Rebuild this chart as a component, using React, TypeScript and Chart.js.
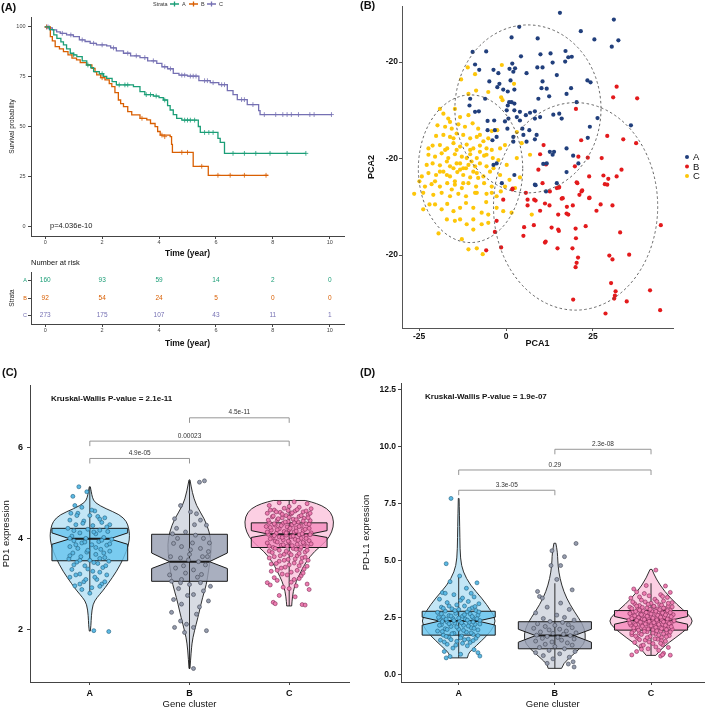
import React, { useEffect, useRef } from "react";
import { Chart, registerables } from "chart.js";
Chart.register(...registerables);

const FONT = "'Liberation Sans', Arial, Helvetica, sans-serif";

// ---------------- Panel A : Kaplan-Meier ----------------
const strata = ["A", "B", "C"];
const kmColors = ["#1b9e77", "#d95f02", "#7570b3"];
const kmTimeA = [0, 0.15, 0.3, 0.41, 0.55, 0.64, 0.75, 0.88, 1.0, 1.11, 1.3, 1.46, 1.6, 1.7, 1.9, 2.05, 2.16, 2.35, 2.5, 3.1, 3.33, 3.5, 3.8, 4.0, 4.15, 4.3, 4.39, 4.5, 4.62, 4.8, 5.38, 5.45, 6.07, 6.15, 6.3, 9.16];
const kmSurvA = [100, 98.7, 96, 94.3, 92.5, 91, 89, 86.8, 86, 85.1, 83, 80.9, 79.5, 77.6, 76.5, 75.2, 74.2, 72.5, 70.9, 70, 67.5, 66, 65.3, 64.5, 63.3, 60.5, 58.3, 56, 54.1, 53.2, 50, 47, 44, 42, 36.5, 36.5];
const kmTimeB = [0, 0.18, 0.25, 0.35, 0.5, 0.64, 0.8, 0.94, 1.1, 1.23, 1.45, 1.64, 1.75, 1.81, 1.95, 2.1, 2.25, 2.34, 2.45, 2.57, 2.65, 2.75, 2.9, 3.04, 3.33, 3.57, 3.7, 3.86, 3.95, 4.04, 4.39, 4.44, 4.47, 5.2, 5.73, 7.84];
const kmSurvB = [100, 95.1, 93, 90.1, 89, 87.6, 86, 84.3, 83.5, 82.1, 81, 79.2, 77.5, 75.9, 74.5, 73.4, 71.5, 70, 67, 63.3, 61.5, 60, 57.5, 55.8, 54.1, 53.3, 51.5, 49.9, 47.5, 45.7, 44.9, 41, 37, 30, 25.5, 25.5];
const kmTimeC = [0, 0.1, 0.25, 0.4, 0.53, 0.75, 0.99, 1.2, 1.4, 1.58, 1.8, 2.16, 2.3, 2.5, 2.75, 3.0, 3.33, 3.6, 3.92, 4.1, 4.3, 4.5, 4.7, 5.0, 5.4, 5.8, 6.1, 6.4, 6.6, 6.75, 7.1, 7.5, 7.55, 10.06];
const kmSurvC = [100, 99.5, 98.5, 97.5, 96.8, 96, 95.1, 93.5, 92.7, 91.8, 91, 90.5, 89.5, 88, 86.8, 85.5, 84.6, 83, 81.7, 80, 79, 76.7, 75.8, 75.3, 73, 72, 71, 68, 66, 63.5, 61, 58, 56, 56];
const censTimeA = [1.0, 1.5, 2.0, 2.6, 2.8, 2.9, 3.55, 3.7, 3.9, 4.2, 4.9, 5.0, 5.1, 5.25, 5.6, 5.75, 5.9, 6.6, 7.0, 7.4, 7.9, 8.5, 9.16];
const censSurvA = [86, 80.9, 76.5, 70.9, 70.9, 70.9, 66, 66, 65.3, 63.3, 53.2, 53.2, 53.2, 53.2, 47, 47, 47, 36.5, 36.5, 36.5, 36.5, 36.5, 36.5];
const censTimeB = [0.05, 2.0, 3.4, 4.1, 4.2, 4.8, 5.0, 5.5, 6.07, 6.5, 7.0, 7.76];
const censSurvB = [100, 74.5, 54.1, 45.7, 44.9, 37, 37, 30, 25.5, 25.5, 25.5, 25.5];
const censTimeC = [0.05, 0.1, 0.15, 0.6, 0.9, 1.3, 1.7, 2.0, 2.4, 2.9, 3.2, 3.5, 3.8, 4.2, 4.4, 4.8, 4.9, 5.1, 5.2, 5.3, 5.6, 5.7, 5.9, 6.2, 6.3, 6.9, 7.0, 7.3, 7.7, 8.1, 8.35, 8.5, 8.65, 8.9, 9.3, 9.45, 10.06];
const censSurvC = [100, 100, 99.5, 96.8, 96, 93.5, 91.8, 91, 89.5, 86.8, 85.5, 84.6, 83, 80, 79, 75.8, 75.8, 75.3, 75.3, 75.3, 73, 73, 72, 71, 71, 63.5, 63.5, 61, 56, 56, 56, 56, 56, 56, 56, 56, 56];
const kmTicksX = [0, 2, 4, 6, 8, 10];
const kmTicksY = [0, 25, 50, 75, 100];
const pValueText = "p=4.036e-10";
const pValuePos = [0.17, 0];

// risk table
const riskTimes = [0, 2, 4, 6, 8, 10];
const riskA = [160, 93, 59, 14, 2, 0];
const riskB = [92, 54, 24, 5, 0, 0];
const riskC = [273, 175, 107, 43, 11, 1];

// ---------------- Panel B : PCA ----------------
const pcaColors = ["#213f7c", "#e31a1c", "#fdc60a"];
const pcaA = [[15.5,30.2],[31.0,28.8],[3.8,27.3],[21.5,26.4],[9.1,24.9],[1.6,25.1],[25.4,24.7],[32.3,24.5],[30.4,23.2],[17.1,22.3],[-9.6,22.1],[-5.7,22.2],[9.9,21.6],[12.8,21.8],[17.9,21.0],[18.9,21.1],[4.3,21.2],[17.0,20.1],[-8.9,19.5],[1.8,19.7],[13.4,19.9],[9.0,18.9],[10.5,18.9],[1.0,18.6],[2.6,18.7],[-3.6,18.4],[-7.7,18.4],[-2.2,17.7],[2.1,18.0],[5.9,17.7],[14.6,17.3],[-4.8,16.0],[1.3,16.2],[10.5,16.0],[-1.9,15.5],[23.4,16.2],[24.3,15.8],[18.7,14.6],[-2.5,14.8],[-0.8,14.3],[0.5,13.9],[2.4,14.3],[10.2,14.6],[11.7,14.5],[17.4,13.4],[9.3,12.4],[12.4,12.9],[-6.0,12.4],[-10.3,12.4],[0.9,11.7],[1.6,11.7],[0.5,11.0],[2.4,11.4],[20.3,11.7],[-10.5,11.0],[-8.9,9.7],[-7.8,9.8],[0.2,10.0],[2.4,10.0],[4.0,9.7],[6.9,9.5],[8.3,9.8],[13.6,9.1],[15.3,9.3],[16.0,8.3],[0.7,8.3],[3.1,8.6],[5.7,9.0],[-5.3,7.8],[-3.4,7.9],[-0.3,7.7],[4.0,7.9],[8.3,8.3],[9.8,8.6],[26.3,8.4],[35.9,6.9],[24.1,6.6],[-5.3,5.9],[-3.2,5.9],[0.4,6.2],[4.7,6.2],[6.7,5.9],[-2.7,4.5],[2.1,4.5],[5.0,4.9],[8.8,4.9],[8.3,4.0],[-3.9,3.8],[2.1,3.5],[5.9,3.5],[17.4,2.1],[23.5,4.3],[12.6,1.4],[13.4,0.8],[13.8,1.4],[19.3,0.6],[20.8,-1.0],[10.7,-1.1],[-3.6,-1.3],[-2.7,-1.0],[11.7,-1.0],[17.4,-2.8],[2.4,-3.4],[8.3,-5.4],[-1.2,-5.1],[14.6,-5.1],[8.5,-5.5],[11.5,-6.8]];
const pcaB = [[31.8,14.9],[30.8,12.7],[37.7,12.5],[20.1,10.3],[21.6,3.8],[29.1,4.7],[33.7,4.0],[37.4,3.2],[10.8,2.8],[9.8,0.9],[20.8,0.4],[23.5,0.2],[27.5,0.1],[11.5,-1.2],[19.8,-1.6],[9.3,-2.3],[23.9,-3.7],[28.0,-3.5],[31.8,-3.7],[33.2,-2.3],[29.4,-4.2],[28.4,-5.3],[29.1,-5.4],[20.3,-4.9],[15.2,-6.0],[10.5,-5.1],[21.7,-6.8],[21.1,-7.5],[23.9,-8.2],[16.3,-8.2],[5.7,-7.1],[1.8,-6.4],[12.6,-6.8],[8.1,-8.5],[14.6,-6.1],[20.5,-5.1],[15.3,-5.9],[21.9,-6.6],[24.0,-8.1],[6.2,-8.5],[8.5,-8.7],[1.9,-6.2],[-0.8,-8.5],[16.0,-8.3],[6.2,-9.7],[11.2,-9.3],[12.5,-9.7],[19.2,-9.7],[17.5,-10.0],[27.2,-9.5],[30.6,-9.7],[26.0,-10.8],[9.8,-10.8],[15.0,-11.6],[17.4,-11.4],[17.9,-11.6],[5.2,-14.2],[8.0,-13.8],[13.1,-14.3],[15.0,-14.7],[15.2,-15.0],[20.0,-14.5],[22.9,-14.0],[-2.7,-12.9],[-3.2,-15.2],[5.0,-16.0],[11.2,-17.4],[11.4,-17.2],[20.1,-16.5],[32.8,-15.3],[44.5,-13.8],[14.8,-18.6],[19.1,-18.6],[-5.7,-19.0],[-1.4,-18.4],[20.7,-20.5],[20.3,-21.6],[20.0,-22.5],[29.7,-20.1],[30.6,-20.9],[35.4,-19.9],[30.2,-25.8],[31.5,-27.5],[31.3,-28.4],[31.1,-29.0],[34.7,-29.6],[41.4,-27.3],[19.3,-29.2],[28.6,-32.1],[44.3,-31.4]];
const pcaC = [[-1.2,19.4],[-11.0,18.9],[-8.9,17.5],[-12.9,16.4],[-5.1,13.8],[-8.6,14.1],[-10.8,13.4],[2.3,15.5],[-1.4,12.7],[-1.0,12.1],[-19.0,10.3],[-16.6,8.3],[-13.2,8.6],[-10.8,9.0],[-17.5,6.6],[-15.6,6.2],[-13.7,7.1],[-11.8,6.6],[-9.6,7.3],[-8.0,6.2],[-20.1,4.7],[-18.0,4.9],[-16.1,4.5],[-14.2,5.2],[-12.3,4.9],[-10.3,4.2],[-8.4,4.5],[-6.5,3.6],[-4.1,5.7],[-2.5,5.9],[-21.1,2.7],[-19.0,2.8],[-16.9,2.1],[-15.1,3.2],[-13.2,2.5],[-11.3,2.9],[-9.4,2.1],[-7.5,2.7],[-5.6,2.1],[-1.7,2.1],[-0.3,2.8],[-22.3,0.8],[-20.4,0.4],[-18.5,1.1],[-16.6,0.1],[-14.7,0.9],[-12.7,0.4],[-10.3,0.9],[-8.4,0.1],[-6.3,0.6],[-22.8,-1.3],[-21.1,-1.0],[-19.0,-1.4],[-17.0,-0.6],[-16.1,-1.6],[-14.2,-1.0],[-12.3,-2.0],[-10.8,-1.3],[-8.9,-1.6],[-7.5,-1.0],[-3.8,0.1],[-2.2,-0.3],[0.2,-1.3],[3.1,0.1],[6.9,0.8],[-24.2,-3.7],[-22.3,-3.0],[-20.1,-3.4],[-18.0,-2.7],[-16.1,-3.7],[-14.0,-2.8],[-12.3,-3.4],[-10.3,-3.9],[-8.4,-3.0],[-6.5,-3.7],[-4.6,-2.7],[-1.7,-3.4],[1.0,-4.4],[4.0,-3.9],[-24.9,-4.7],[-23.3,-5.8],[-21.4,-5.3],[-19.0,-5.8],[-16.9,-5.1],[-14.7,-5.4],[-12.7,-6.1],[-10.8,-5.1],[-8.6,-5.8],[-6.3,-5.1],[-4.1,-5.8],[-0.3,-5.8],[2.6,-6.1],[-26.4,-7.3],[-23.8,-7.1],[-20.9,-7.5],[-18.5,-7.1],[-16.1,-7.8],[-13.7,-7.3],[-11.5,-7.8],[-8.9,-7.1],[-5.6,-7.3],[-2.7,-7.8],[-23.8,-10.5],[-22.0,-9.5],[-20.4,-9.5],[-18.5,-10.5],[-16.9,-9.4],[-15.1,-10.9],[-13.2,-10.2],[-11.5,-9.2],[-9.4,-10.2],[-7.0,-11.2],[-5.1,-11.6],[-2.7,-10.2],[-0.8,-10.9],[1.6,-11.2],[7.4,-11.6],[-19.4,-15.5],[-17.0,-12.6],[-14.7,-12.9],[-13.2,-12.6],[-11.3,-13.6],[-9.4,-12.6],[-7.0,-13.6],[-5.1,-13.3],[-9.4,-14.7],[-12.7,-16.7],[-10.8,-18.8],[-8.4,-18.6],[-6.7,-19.8],[-1.5,-6.8],[-15.6,-6.4],[-8.4,-7.1],[-4.1,-7.1],[-5.7,-9.0],[-15.1,-2.0],[-13.2,-2.3],[-11.3,0.1],[-9.9,-0.6],[-13.2,-1.0],[-11.5,-2.0],[-9.4,-2.7],[-8.0,-4.0],[-14.7,-4.7],[-12.3,-5.1],[-17.0,-3.4],[-19.0,-2.7],[-20.4,-4.7],[-22.3,2.1],[-17.5,1.8],[-14.2,1.8],[-10.3,1.8],[-7.5,1.4],[-5.6,0.8],[-4.1,1.8],[-3.6,-2.0],[-5.6,-1.6],[-15.1,4.2],[-19.7,6.9],[-16.1,7.6],[-14.7,10.3],[-18.0,9.3],[-7.5,4.9],[-5.1,4.2],[3.1,5.5],[4.5,3.2]];
const pcaGroups = [pcaA, pcaB, pcaC];
const ellCenterX = [6.3, 20.0, -10.2];
const ellCenterY = [10.3, -9.9, -2.1];
const ellRadiusX = [21.0, 23.6, 15.0];
const ellRadiusY = [17.4, 21.5, 15.3];
const pcaTicksX = [-25, 0, 25];
const pcaTicksY = [-20, 0, 20];

// ---------------- Panels C / D : violins ----------------
const clusters = ["A", "B", "C"];
const vioFill = ["#c3e6f6", "#d7dbe3", "#fccfe3"];
const boxFill = ["rgba(105,196,238,0.82)", "rgba(150,158,177,0.82)", "rgba(245,140,190,0.82)"];
const ptFill = ["#5cb9e4", "#959cad", "#ee7db1"];
const ptStroke = ["#245f7e", "#434855", "#7d2c56"];

// PD1
const pd1VioAy = [1.97, 2.1, 2.3, 2.56, 2.7, 2.85, 3.0, 3.28, 3.57, 3.86, 4.07, 4.22, 4.37, 4.52, 4.65, 4.78, 4.9, 5.02, 5.13];
const pd1VioAw = [0.005, 0.012, 0.015, 0.03, 0.07, 0.13, 0.18, 0.27, 0.34, 0.39, 0.40, 0.39, 0.37, 0.30, 0.16, 0.05, 0.025, 0.015, 0.005];
const pd1VioBy = [1.15, 1.55, 1.83, 2.12, 2.41, 2.70, 2.99, 3.28, 3.57, 3.86, 4.14, 4.43, 4.72, 5.01, 5.28];
const pd1VioBw = [0.005, 0.017, 0.033, 0.067, 0.10, 0.13, 0.17, 0.19, 0.21, 0.22, 0.20, 0.15, 0.067, 0.027, 0.005];
const pd1VioCy = [2.52, 2.6, 2.84, 3.06, 3.28, 3.49, 3.71, 3.93, 4.14, 4.36, 4.58, 4.72, 4.8, 4.83];
const pd1VioCw = [0.025, 0.027, 0.04, 0.07, 0.12, 0.17, 0.25, 0.37, 0.43, 0.45, 0.42, 0.33, 0.22, 0.16];
const pd1Q1 = [3.51, 3.06, 3.80];
const pd1Med = [3.99, 3.49, 4.09];
const pd1Q3 = [4.22, 4.09, 4.34];
const pd1NotchLo = [3.87, 3.34, 4.02];
const pd1NotchHi = [4.12, 3.68, 4.17];
const pd1WhiskLo = [2.8, 1.15, 2.52];
const pd1WhiskHi = [5.12, 5.26, 4.83];
const pd1PtsA = [[-0.11,5.13],[-0.17,4.92],[-0.03,5.02],[-0.15,4.72],[-0.08,4.68],[0.05,4.6],[-0.19,4.55],[-0.12,4.55],[0.0,4.5],[0.08,4.48],[0.15,4.45],[-0.2,4.4],[-0.06,4.38],[0.12,4.35],[0.2,4.3],[-0.14,4.3],[0.03,4.28],[-0.22,4.22],[-0.02,4.2],[0.1,4.18],[0.18,4.15],[-0.1,4.12],[0.06,4.1],[-0.18,4.05],[0.14,4.02],[-0.04,4.0],[0.22,3.98],[-0.16,3.95],[0.09,3.93],[-0.08,3.9],[0.02,3.86],[0.17,3.85],[-0.2,3.82],[-0.12,3.78],[0.11,3.76],[0.2,3.72],[-0.03,3.7],[-0.17,3.68],[0.06,3.65],[-0.09,3.6],[0.15,3.58],[-0.21,3.55],[0.0,3.52],[0.19,3.5],[-0.13,3.48],[0.08,3.45],[-0.05,3.4],[0.13,3.36],[-0.18,3.32],[0.03,3.28],[-0.1,3.22],[0.17,3.2],[-0.2,3.15],[0.07,3.1],[-0.06,3.05],[0.12,3.0],[-0.15,2.96],[0.02,2.92],[-0.08,2.88],[0.1,2.95],[0.0,2.8],[0.04,1.98],[0.19,1.96],[0.02,4.62],[-0.13,4.5],[0.1,4.42],[-0.07,4.33],[0.17,4.25],[-0.16,4.17],[0.04,4.14],[-0.2,4.0],[0.12,3.96],[-0.05,3.92],[0.2,3.88],[-0.14,3.86],[0.06,3.8],[-0.02,3.74],[0.14,3.68],[-0.2,3.62],[0.1,3.56],[-0.1,3.52],[0.04,3.47],[-0.16,3.42],[0.16,3.4],[-0.02,3.33],[0.1,3.26],[-0.14,3.2],[0.05,3.15],[-0.04,3.1],[0.15,3.05],[-0.1,3.0]];
const pd1PtsB = [[0.10,5.23],[0.15,5.26],[-0.09,4.72],[0.01,4.58],[0.07,4.54],[-0.15,4.43],[0.11,4.40],[0.17,4.29],[-0.13,4.22],[-0.04,4.14],[0.06,4.07],[0.14,4.00],[-0.16,3.89],[-0.08,3.82],[0.01,3.75],[0.11,3.78],[0.19,3.71],[-0.19,3.60],[-0.09,3.57],[-0.01,3.53],[0.09,3.49],[0.16,3.42],[-0.14,3.35],[-0.04,3.24],[0.04,3.31],[0.12,3.21],[-0.18,3.06],[-0.09,3.03],[0.0,2.99],[0.11,3.03],[0.21,2.95],[-0.16,2.66],[-0.08,2.56],[0.04,2.77],[0.19,2.63],[-0.18,2.38],[-0.09,2.19],[-0.03,2.12],[0.04,2.05],[0.07,2.34],[0.17,1.98],[-0.15,2.05],[-0.05,1.94],[0.04,1.15],[-0.12,4.0],[0.03,3.9],[0.18,3.6],[-0.06,3.4],[0.08,3.15],[-0.2,3.2],[0.14,2.85],[-0.02,2.75],[0.1,2.5],[-0.11,2.9],[0.05,4.3],[-0.17,4.1],[0.2,3.9],[0.0,3.65],[-0.08,3.1],[0.13,3.6]];
const pd1PtsC = [[0.05,4.8],[-0.1,4.78],[0.18,4.76],[-0.2,4.72],[0.0,4.7],[0.1,4.68],[-0.05,4.66],[0.22,4.65],[-0.15,4.62],[0.06,4.6],[0.14,4.58],[-0.09,4.57],[-0.22,4.55],[0.02,4.54],[0.19,4.52],[-0.03,4.5],[0.1,4.48],[-0.17,4.47],[-0.07,4.45],[0.15,4.44],[0.04,4.42],[-0.12,4.4],[0.21,4.39],[-0.01,4.37],[0.09,4.36],[-0.2,4.35],[-0.06,4.33],[0.17,4.32],[0.03,4.3],[-0.14,4.29],[0.12,4.27],[-0.23,4.26],[-0.02,4.25],[0.07,4.23],[0.2,4.22],[-0.1,4.21],[0.0,4.19],[-0.18,4.18],[0.14,4.17],[-0.05,4.15],[0.05,4.14],[0.22,4.12],[-0.13,4.11],[-0.21,4.09],[0.1,4.08],[-0.03,4.07],[0.17,4.05],[0.02,4.04],[-0.1,4.03],[-0.17,4.01],[0.12,4.0],[0.06,3.98],[-0.06,3.97],[0.2,3.95],[-0.14,3.94],[0.0,3.92],[-0.22,3.9],[0.15,3.89],[0.08,3.87],[-0.08,3.85],[-0.02,3.83],[0.18,3.82],[-0.16,3.8],[0.04,3.78],[0.11,3.76],[-0.1,3.74],[-0.2,3.72],[0.16,3.7],[0.0,3.68],[-0.05,3.65],[0.08,3.62],[-0.15,3.6],[0.13,3.57],[-0.01,3.54],[0.19,3.52],[-0.1,3.5],[0.05,3.46],[-0.18,3.44],[0.1,3.4],[-0.04,3.37],[0.15,3.33],[-0.12,3.3],[0.02,3.26],[-0.07,3.22],[0.12,3.18],[-0.15,3.14],[0.05,3.1],[-0.22,3.03],[0.18,3.0],[-0.19,2.98],[0.07,2.96],[0.0,2.9],[0.2,2.88],[-0.1,2.75],[0.06,2.72],[-0.16,2.6],[0.13,2.55],[-0.14,2.57],[0.16,2.54],[-0.19,4.62],[0.08,4.63],[-0.01,4.61],[0.17,4.6],[-0.13,4.58],[0.03,4.56],[0.21,4.55],[-0.07,4.53],[0.12,4.5],[-0.16,4.49],[0.0,4.46],[0.19,4.45],[-0.11,4.43],[0.07,4.41],[-0.21,4.4],[0.14,4.38],[-0.04,4.36],[0.05,4.34],[-0.15,4.32],[0.2,4.31],[-0.08,4.28],[0.1,4.26],[-0.19,4.24],[0.01,4.22],[0.16,4.2],[-0.12,4.19],[0.07,4.16],[-0.22,4.14],[-0.03,4.12],[0.13,4.1],[0.21,4.08],[-0.15,4.06],[0.04,4.05],[-0.07,4.02],[0.17,4.0],[-0.19,3.99],[0.09,3.96],[-0.01,3.94],[-0.12,3.92],[0.14,3.91],[0.22,3.88],[-0.06,3.86],[0.03,3.84],[-0.2,3.83],[0.12,3.81],[-0.14,3.78],[0.07,3.76],[0.18,3.74],[-0.03,3.72],[-0.17,3.69],[0.1,3.67],[0.02,3.64],[-0.09,3.62],[0.16,3.59],[-0.2,3.57],[0.06,3.55],[-0.05,3.52],[0.12,3.48],[-0.13,3.45],[0.0,3.42],[0.18,3.39],[-0.08,3.35],[0.08,3.3],[-0.18,3.28],[0.14,3.24],[-0.02,3.2],[0.1,3.12],[-0.12,3.08],[0.02,3.04],[-0.06,2.93]];
const pd1BrkFrom = [1, 1, 2];
const pd1BrkTo = [2, 3, 3];
const pd1BrkY = [5.75, 6.13, 6.64];
const pd1BrkLabel = ["4.9e-05", "0.00023", "4.5e-11"];
const pd1Kruskal = "Kruskal-Wallis P-value = 2.1e-11";
const pd1KruskalPos = [0.61, 7.05];
const pd1TicksY = [2, 4, 6];

// PD-L1
const pdl1VioAy = [0.72, 0.9, 1.05, 1.48, 1.91, 2.34, 2.77, 3.35, 3.92, 4.5, 5.07, 6.0, 7.0, 7.73];
const pdl1VioAw = [0.09, 0.1, 0.13, 0.24, 0.34, 0.39, 0.34, 0.24, 0.12, 0.045, 0.017, 0.012, 0.008, 0.004];
const pdl1VioBy = [0.26, 0.47, 0.9, 1.34, 1.77, 2.2, 2.77, 3.35, 3.92, 4.5, 5.0, 5.36, 5.76];
const pdl1VioBw = [0.07, 0.085, 0.2, 0.31, 0.32, 0.29, 0.2, 0.12, 0.07, 0.04, 0.03, 0.027, 0.01];
const pdl1VioCy = [0.83, 1.19, 1.62, 2.05, 2.34, 2.63, 3.06, 3.64, 4.21, 4.61];
const pdl1VioCw = [0.05, 0.12, 0.26, 0.39, 0.44, 0.39, 0.27, 0.14, 0.05, 0.01];
const pdl1Q1 = [1.72, 1.12, 1.94];
const pdl1Med = [2.34, 1.70, 2.37];
const pdl1Q3 = [2.77, 2.31, 2.80];
const pdl1NotchLo = [2.16, 1.41, 2.2];
const pdl1NotchHi = [2.51, 1.98, 2.54];
const pdl1WhiskLo = [0.72, 0.26, 0.83];
const pdl1WhiskHi = [4.35, 4.0, 4.0];
const pdl1PtsA = [[-0.08,7.73],[-0.13,4.86],[0.01,4.32],[-0.09,4.07],[0.19,4.02],[-0.17,3.59],[-0.14,3.56],[0.13,3.56],[0.08,3.78],[-0.05,3.5],[0.16,3.4],[-0.2,3.3],[0.02,3.25],[0.1,3.2],[-0.12,3.15],[0.21,3.1],[-0.02,3.05],[0.06,3.0],[-0.18,2.95],[0.14,2.92],[-0.07,2.88],[0.0,2.85],[0.18,2.8],[-0.14,2.78],[0.09,2.75],[-0.22,2.72],[-0.03,2.68],[0.12,2.65],[0.2,2.6],[-0.1,2.58],[0.04,2.55],[-0.16,2.52],[0.15,2.48],[-0.06,2.45],[0.07,2.42],[-0.2,2.4],[0.22,2.36],[0.01,2.33],[-0.12,2.3],[0.11,2.28],[-0.04,2.25],[0.17,2.2],[-0.18,2.18],[0.05,2.15],[-0.08,2.1],[0.13,2.05],[-0.14,2.0],[0.0,1.98],[0.2,1.95],[-0.22,1.9],[0.08,1.85],[-0.05,1.8],[0.15,1.75],[-0.16,1.72],[0.03,1.68],[-0.1,1.62],[0.18,1.58],[0.06,1.52],[-0.19,1.5],[-0.02,1.45],[0.12,1.4],[-0.12,1.32],[0.09,1.25],[-0.06,1.15],[0.16,1.08],[-0.15,1.0],[0.2,0.95],[0.02,0.88],[-0.09,0.78],[-0.13,0.72],[0.22,0.8],[0.04,3.35],[-0.1,3.0],[0.17,2.98],[-0.16,2.9],[0.11,2.86],[-0.04,2.8],[0.21,2.74],[-0.18,2.66],[0.06,2.62],[-0.08,2.56],[0.14,2.54],[-0.21,2.5],[0.0,2.47],[0.19,2.44],[-0.13,2.42],[0.09,2.38],[-0.05,2.36],[-0.17,2.32],[0.15,2.3],[0.03,2.26],[-0.1,2.22],[0.22,2.21],[-0.2,2.15],[0.1,2.12],[-0.02,2.08],[0.16,2.02],[-0.12,1.97],[0.05,1.93],[-0.17,1.88],[0.13,1.82],[-0.07,1.78],[0.2,1.7],[-0.13,1.66],[0.02,1.6],[0.1,1.55],[-0.08,1.52],[0.15,1.48],[-0.15,1.42],[0.04,1.36],[-0.03,1.28]];
const pdl1PtsB = [[0.22,5.75],[-0.03,5.43],[0.1,5.17],[-0.04,4.78],[0.06,4.78],[0.02,4.17],[-0.18,3.64],[0.18,3.71],[-0.16,3.42],[-0.13,3.35],[0.06,3.13],[-0.08,2.95],[0.15,2.85],[-0.2,2.7],[0.02,2.6],[0.1,2.5],[-0.12,2.45],[0.2,2.38],[-0.05,2.32],[0.08,2.28],[-0.18,2.22],[0.14,2.18],[0.0,2.15],[-0.1,2.1],[0.18,2.05],[-0.22,2.02],[0.05,1.98],[-0.06,1.95],[0.12,1.9],[-0.15,1.86],[0.22,1.82],[-0.02,1.8],[0.09,1.76],[-0.19,1.72],[0.16,1.7],[-0.08,1.66],[0.03,1.62],[-0.13,1.58],[0.2,1.55],[0.07,1.5],[-0.2,1.46],[-0.03,1.42],[0.13,1.38],[-0.1,1.32],[0.18,1.28],[0.0,1.22],[-0.16,1.18],[0.1,1.12],[-0.06,1.05],[0.21,1.0],[-0.2,0.95],[0.05,0.9],[-0.12,0.82],[0.15,0.75],[-0.02,0.68],[0.19,0.55],[-0.08,0.48],[0.2,0.32],[0.14,0.45]];
const pdl1PtsC = [[0.05,4.58],[-0.18,3.75],[0.15,3.88],[-0.05,3.9],[0.2,3.6],[-0.15,3.62],[0.1,3.5],[-0.02,3.45],[0.17,3.38],[-0.21,3.35],[0.04,3.3],[-0.1,3.26],[0.13,3.22],[-0.06,3.18],[0.22,3.15],[0.0,3.12],[-0.17,3.1],[0.09,3.06],[-0.12,3.02],[0.18,3.0],[0.03,2.97],[-0.22,2.95],[-0.04,2.92],[0.14,2.9],[0.07,2.87],[-0.14,2.85],[0.2,2.82],[-0.08,2.8],[0.01,2.78],[0.11,2.75],[-0.19,2.73],[-0.02,2.7],[0.16,2.68],[0.05,2.66],[-0.11,2.64],[0.23,2.62],[-0.06,2.6],[0.09,2.58],[-0.2,2.56],[0.0,2.54],[0.14,2.52],[-0.15,2.5],[0.06,2.48],[-0.03,2.46],[0.19,2.44],[-0.09,2.42],[0.11,2.4],[-0.23,2.38],[0.02,2.36],[-0.13,2.34],[0.17,2.32],[0.07,2.3],[-0.05,2.28],[0.21,2.26],[-0.17,2.24],[0.0,2.22],[0.12,2.2],[-0.1,2.18],[-0.21,2.16],[0.04,2.14],[0.18,2.12],[-0.02,2.1],[0.09,2.08],[-0.14,2.05],[0.14,2.03],[-0.07,2.0],[0.22,1.98],[0.02,1.95],[-0.18,1.92],[0.1,1.9],[-0.04,1.87],[0.16,1.84],[-0.12,1.8],[0.05,1.77],[-0.2,1.74],[0.19,1.7],[-0.01,1.66],[0.11,1.62],[-0.14,1.58],[0.07,1.54],[-0.06,1.5],[0.15,1.45],[-0.17,1.4],[0.02,1.35],[0.12,1.3],[-0.1,1.25],[0.18,1.18],[-0.03,1.12],[0.08,1.05],[-0.15,1.0],[0.13,0.92],[-0.2,0.85],[0.1,0.8],[0.12,0.86],[-0.07,3.55],[0.12,3.42],[-0.12,3.4],[0.06,3.2],[-0.19,3.18],[0.18,3.12],[-0.03,3.08],[0.11,3.04],[-0.15,3.0],[0.03,2.99],[0.22,2.96],[-0.09,2.94],[0.13,2.91],[-0.2,2.89],[-0.01,2.86],[0.09,2.84],[-0.12,2.82],[0.17,2.8],[0.05,2.77],[-0.16,2.76],[-0.05,2.72],[0.2,2.71],[0.12,2.69],[-0.22,2.67],[0.0,2.65],[-0.1,2.62],[0.15,2.61],[0.07,2.59],[-0.17,2.57],[-0.04,2.55],[0.21,2.53],[0.1,2.51],[-0.13,2.49],[0.02,2.47],[-0.2,2.45],[0.17,2.43],[-0.07,2.41],[0.06,2.39],[-0.15,2.37],[0.24,2.35],[-0.02,2.33],[0.13,2.31],[-0.11,2.29],[0.03,2.27],[-0.22,2.25],[0.19,2.23],[-0.06,2.21],[0.08,2.19],[-0.16,2.17],[0.15,2.15],[0.0,2.13],[-0.09,2.11],[0.21,2.09],[0.05,2.06],[-0.18,2.04],[0.11,2.01],[-0.03,1.99],[0.16,1.96],[-0.13,1.94],[0.06,1.91],[-0.07,1.88],[0.2,1.86],[-0.2,1.83],[0.02,1.81],[0.13,1.78],[-0.1,1.75],[0.08,1.72],[-0.16,1.68],[0.16,1.65],[-0.04,1.61],[0.04,1.56],[-0.12,1.52],[0.11,1.47],[-0.02,1.42],[0.1,1.36],[-0.08,1.28],[0.05,1.2],[-0.1,1.1],[0.2,0.84]];
const pdl1BrkFrom = [1, 1, 2];
const pdl1BrkTo = [2, 3, 3];
const pdl1BrkY = [8.09, 8.98, 9.89];
const pdl1BrkLabel = ["3.3e-05", "0.29", "2.3e-08"];
const pdl1Kruskal = "Kruskal-Wallis P-value = 1.9e-07";
const pdl1KruskalPos = [0.65, 12.2];
const pdl1TicksY = [0, 2.5, 5, 7.5, 10, 12.5];

// ---------------- helpers ----------------
const fixW = (w: number) => (s: any) => { s.width = w; };
const fixH = (h: number) => (s: any) => { s.height = h; };
const setTicks = (vals: number[]) => (s: any) => { s.ticks = vals.map((v) => ({ value: v })); };
const f = (size: number, weight?: string) => ({ family: FONT, size, weight: weight || "normal" });
const gridOpts = (c: string) => ({ drawOnChartArea: false, drawTicks: true, tickLength: 3, color: c, tickColor: c, lineWidth: 1 });
const borderOpts = (c: string) => ({ display: true, color: c, width: 1 });
const baseOpts = (pad: any) => ({
  responsive: false,
  animation: false,
  events: [],
  layout: { padding: pad },
  plugins: { legend: { display: false }, tooltip: { enabled: false } },
});

function smoothPath(ctx: any, pts: number[][], first: boolean) {
  if (first) ctx.moveTo(pts[0][0], pts[0][1]);
  else ctx.lineTo(pts[0][0], pts[0][1]);
  for (let i = 1; i < pts.length - 1; i++) {
    const mx = (pts[i][0] + pts[i + 1][0]) / 2;
    const my = (pts[i][1] + pts[i + 1][1]) / 2;
    ctx.quadraticCurveTo(pts[i][0], pts[i][1], mx, my);
  }
  const l = pts[pts.length - 1];
  ctx.lineTo(l[0], l[1]);
}

function kmConfig() {
  const curves = [[kmTimeA, kmSurvA], [kmTimeB, kmSurvB], [kmTimeC, kmSurvC]];
  const cens = [[censTimeA, censSurvA], [censTimeB, censSurvB], [censTimeC, censSurvC]];
  const datasets: any[] = [];
  curves.forEach(([t, s], g) => {
    datasets.push({
      data: t.map((v, i) => ({ x: v, y: s[i] })),
      showLine: true, stepped: true, borderColor: kmColors[g], borderWidth: 1.3, pointRadius: 0, fill: false,
    });
  });
  cens.forEach(([t, s], g) => {
    datasets.push({
      data: t.map((v, i) => ({ x: v, y: s[i] })),
      showLine: false, pointStyle: "cross", pointRadius: 2.4, borderWidth: 0.8,
      borderColor: kmColors[g], backgroundColor: kmColors[g],
    });
  });
  const decor = {
    id: "kmDecor",
    afterDraw(chart: any) {
      const { ctx, scales } = chart;
      ctx.save();
      ctx.fillStyle = "#222";
      ctx.font = `7.5px ${FONT}`;
      ctx.textAlign = "left";
      ctx.textBaseline = "middle";
      ctx.fillText(pValueText, scales.x.getPixelForValue(pValuePos[0]), scales.y.getPixelForValue(pValuePos[1]));
      ctx.font = `5.5px ${FONT}`;
      ctx.fillStyle = "#333";
      ctx.fillText("Strata", 153, 4);
      const lx = [170, 189, 207];
      strata.forEach((s, g) => {
        ctx.strokeStyle = kmColors[g];
        ctx.lineWidth = 1.3;
        ctx.beginPath();
        ctx.moveTo(lx[g], 4); ctx.lineTo(lx[g] + 9, 4);
        ctx.moveTo(lx[g] + 4.5, 1.5); ctx.lineTo(lx[g] + 4.5, 6.5);
        ctx.stroke();
        ctx.fillStyle = "#333";
        ctx.fillText(s, lx[g] + 12, 4);
      });
      ctx.restore();
    },
  };
  return {
    type: "scatter",
    data: { datasets },
    options: {
      ...baseOpts({ left: 0, top: 17, right: 11, bottom: 0 }),
      scales: {
        x: {
          type: "linear", min: -0.5, max: 10.5, afterBuildTicks: setTicks(kmTicksX), afterFit: fixH(26),
          ticks: { font: f(5.5), color: "#444", padding: 0, maxRotation: 0, autoSkip: false },
          grid: gridOpts("#444"), border: borderOpts("#444"),
          title: { display: true, text: "Time (year)", font: f(8.5, "bold"), color: "#111", padding: { top: 0, bottom: 3 } },
        },
        y: {
          type: "linear", min: -5, max: 105, afterBuildTicks: setTicks(kmTicksY), afterFit: fixW(31),
          ticks: { font: f(5.5), color: "#444", padding: 2.5 },
          grid: gridOpts("#444"), border: borderOpts("#444"),
          title: { display: true, text: "Survival probability", font: f(6.5), color: "#222", padding: { top: 8, bottom: 0 } },
        },
      },
    },
    plugins: [decor],
  };
}

function riskConfig() {
  const risks = [riskA, riskB, riskC];
  const datasets = strata.map((s) => ({
    data: riskTimes.map((t) => ({ x: t, y: s })),
    showLine: false, pointRadius: 0,
  }));
  const decor = {
    id: "riskDecor",
    afterDatasetsDraw(chart: any) {
      const { ctx } = chart;
      ctx.save();
      ctx.textAlign = "center";
      ctx.textBaseline = "middle";
      ctx.font = `6.5px ${FONT}`;
      risks.forEach((arr, g) => {
        const meta = chart.getDatasetMeta(g);
        ctx.fillStyle = kmColors[g];
        arr.forEach((n, i) => {
          const el = meta.data[i];
          ctx.fillText(String(n), el.x, el.y);
        });
      });
      ctx.fillStyle = "#111";
      ctx.textAlign = "left";
      ctx.font = `7.5px ${FONT}`;
      ctx.fillText("Number at risk", 31, 7);
      ctx.restore();
    },
  };
  return {
    type: "scatter",
    data: { datasets },
    options: {
      ...baseOpts({ left: 0, top: 16, right: 11, bottom: 0 }),
      scales: {
        x: {
          type: "linear", min: -0.5, max: 10.5, afterBuildTicks: setTicks(riskTimes), afterFit: fixH(32),
          ticks: { font: f(5.5), color: "#444", padding: 0, maxRotation: 0, autoSkip: false },
          grid: gridOpts("#444"), border: borderOpts("#444"),
          title: { display: true, text: "Time (year)", font: f(8.5, "bold"), color: "#111", padding: { top: 0, bottom: 7 } },
        },
        y: {
          type: "category", labels: strata, offset: true, afterFit: fixW(31),
          ticks: { font: f(5.5), color: (c: any) => kmColors[c.index], padding: 1 },
          grid: { ...gridOpts("#444"), offset: false }, border: borderOpts("#444"),
          title: { display: true, text: "Strata", font: f(6.5), color: "#222", padding: { top: 8, bottom: 0 } },
        },
      },
    },
    plugins: [decor],
  };
}

function pcaConfig() {
  const datasets = pcaGroups.map((pts, g) => ({
    data: pts.map(([x, y]) => ({ x, y })),
    showLine: false, pointRadius: 2.1, borderWidth: 0,
    backgroundColor: pcaColors[g], borderColor: pcaColors[g],
  }));
  const decor = {
    id: "pcaDecor",
    afterDatasetsDraw(chart: any) {
      const { ctx, scales: { x, y } } = chart;
      ctx.save();
      ctx.strokeStyle = "#555";
      ctx.lineWidth = 0.9;
      ctx.setLineDash([2.5, 2.5]);
      ellCenterX.forEach((cx, i) => {
        const px = x.getPixelForValue(cx);
        const py = y.getPixelForValue(ellCenterY[i]);
        const rx = Math.abs(x.getPixelForValue(cx + ellRadiusX[i]) - px);
        const ry = Math.abs(y.getPixelForValue(ellCenterY[i] + ellRadiusY[i]) - py);
        ctx.beginPath();
        ctx.ellipse(px, py, rx, ry, 0, 0, Math.PI * 2);
        ctx.stroke();
      });
      ctx.restore();
    },
    afterDraw(chart: any) {
      const { ctx } = chart;
      ctx.save();
      const ly = [157, 166.5, 176];
      ctx.font = `9.5px ${FONT}`;
      ctx.textAlign = "left";
      ctx.textBaseline = "middle";
      strata.forEach((s, g) => {
        ctx.fillStyle = pcaColors[g];
        ctx.beginPath();
        ctx.arc(332, ly[g], 2, 0, Math.PI * 2);
        ctx.fill();
        ctx.fillStyle = "#111";
        ctx.fillText(s, 338, ly[g] + 0.5);
      });
      ctx.restore();
    },
  };
  return {
    type: "scatter",
    data: { datasets },
    options: {
      ...baseOpts({ left: 0, top: 3, right: 36, bottom: 0 }),
      scales: {
        x: {
          type: "linear", min: -29.9, max: 48, afterBuildTicks: setTicks(pcaTicksX), afterFit: fixH(32),
          ticks: { font: f(8.5, "bold"), color: "#111", padding: 1, maxRotation: 0, autoSkip: false },
          grid: gridOpts("#555"), border: borderOpts("#555"),
          title: { display: true, text: "PCA1", font: f(9, "bold"), color: "#111", padding: { top: 0, bottom: 11 } },
        },
        y: {
          type: "linear", min: -35.1, max: 31.6, afterBuildTicks: setTicks(pcaTicksY), afterFit: fixW(47),
          ticks: { font: f(8.5, "bold"), color: "#111", padding: 1, callback: () => "-20" },
          grid: gridOpts("#555"), border: borderOpts("#555"),
          title: { display: true, text: "PCA2", font: f(9, "bold"), color: "#111", padding: { top: 11.5, bottom: 0 } },
        },
      },
    },
    plugins: [decor],
  };
}

function violinConfig(p: any) {
  const datasets = p.points.map((pts: number[][], g: number) => ({
    data: pts.map(([dx, v]) => ({ x: g + 1 + dx, y: v })),
    showLine: false, pointRadius: 2, borderWidth: 0.6,
    backgroundColor: ptFill[g], borderColor: ptStroke[g],
  }));
  const hw = 0.38;
  const nw = 0.2;
  const plugin = {
    id: "violinBox",
    beforeDatasetsDraw(chart: any) {
      const { ctx, scales: { x, y } } = chart;
      ctx.save();
      p.vioY.forEach((ys: number[], g: number) => {
        const ws = p.vioW[g];
        const c = g + 1;
        const right = ys.map((v, i) => [x.getPixelForValue(c + ws[i]), y.getPixelForValue(v)]);
        const left = ys.map((v, i) => [x.getPixelForValue(c - ws[i]), y.getPixelForValue(v)]).reverse();
        ctx.beginPath();
        smoothPath(ctx, right, true);
        smoothPath(ctx, left, false);
        ctx.closePath();
        ctx.fillStyle = vioFill[g];
        ctx.fill();
        ctx.lineWidth = 0.9;
        ctx.strokeStyle = "#1a1a1a";
        ctx.stroke();
        const X = (d: number) => x.getPixelForValue(c + d);
        const Y = (v: number) => y.getPixelForValue(v);
        const q1 = p.q1[g], q3 = p.q3[g], md = p.med[g], nl = p.nLo[g], nh = p.nHi[g];
        ctx.beginPath();
        ctx.moveTo(X(-hw), Y(q3));
        ctx.lineTo(X(hw), Y(q3));
        ctx.lineTo(X(hw), Y(nh));
        ctx.lineTo(X(nw), Y(md));
        ctx.lineTo(X(hw), Y(nl));
        ctx.lineTo(X(hw), Y(q1));
        ctx.lineTo(X(-hw), Y(q1));
        ctx.lineTo(X(-hw), Y(nl));
        ctx.lineTo(X(-nw), Y(md));
        ctx.lineTo(X(-hw), Y(nh));
        ctx.closePath();
        ctx.fillStyle = boxFill[g];
        ctx.fill();
        ctx.lineWidth = 1;
        ctx.strokeStyle = "#1a1a1a";
        ctx.stroke();
        ctx.beginPath();
        ctx.lineWidth = 0.9;
        ctx.moveTo(X(0), Y(p.wLo[g]));
        ctx.lineTo(X(0), Y(p.wHi[g]));
        ctx.stroke();
        ctx.beginPath();
        ctx.lineWidth = 2;
        ctx.moveTo(X(-nw), Y(md));
        ctx.lineTo(X(nw), Y(md));
        ctx.stroke();
      });
      ctx.restore();
    },
    afterDatasetsDraw(chart: any) {
      const { ctx, scales: { x, y } } = chart;
      ctx.save();
      ctx.strokeStyle = "#8a8a8a";
      ctx.lineWidth = 0.9;
      ctx.fillStyle = "#333";
      ctx.font = `6.5px ${FONT}`;
      ctx.textAlign = "center";
      ctx.textBaseline = "bottom";
      p.brkFrom.forEach((fr: number, i: number) => {
        const x1 = x.getPixelForValue(fr);
        const x2 = x.getPixelForValue(p.brkTo[i]);
        const yy = y.getPixelForValue(p.brkY[i]);
        const yd = y.getPixelForValue(p.brkY[i] - p.drop);
        ctx.beginPath();
        ctx.moveTo(x1, yd); ctx.lineTo(x1, yy); ctx.lineTo(x2, yy); ctx.lineTo(x2, yd);
        ctx.stroke();
        ctx.fillText(p.brkLabel[i], (x1 + x2) / 2, yy - 2);
      });
      ctx.fillStyle = "#111";
      ctx.font = `bold 8px ${FONT}`;
      ctx.textAlign = "left";
      ctx.textBaseline = "middle";
      ctx.fillText(p.kw, x.getPixelForValue(p.kwPos[0]), y.getPixelForValue(p.kwPos[1]));
      ctx.restore();
    },
  };
  return {
    type: "scatter",
    data: { datasets },
    options: {
      ...baseOpts(p.pad),
      scales: {
        x: {
          type: "linear", min: 0.4, max: p.xMax, afterBuildTicks: setTicks([1, 2, 3]), afterFit: fixH(30),
          ticks: { font: f(9, "bold"), color: "#111", padding: 3, maxRotation: 0, autoSkip: false, callback: (v: number) => clusters[Math.round(v) - 1] },
          grid: gridOpts("#444"), border: borderOpts("#444"),
          title: { display: true, text: "Gene cluster", font: f(9.5), color: "#111", padding: { top: 0, bottom: 2 } },
        },
        y: {
          type: "linear", min: p.yMin, max: p.yMax, afterBuildTicks: setTicks(p.yTicks), afterFit: fixW(p.yW),
          ticks: { font: f(p.yFont, "bold"), color: "#111", padding: p.yPad, callback: p.yFmt },
          grid: gridOpts("#444"), border: borderOpts("#444"),
          title: { display: true, text: p.yTitle, font: f(9.5), color: "#111", padding: { top: p.yTitlePad, bottom: 0 } },
        },
      },
    },
    plugins: [plugin],
  };
}

const panelLabel = (text: string, left: number, top: number) => (
  <div style={{ position: "absolute", left, top, font: `bold 11px ${FONT}`, lineHeight: "11px", color: "#111", zIndex: 2 }}>{text}</div>
);

export default function App() {
  const kmRef = useRef<HTMLCanvasElement>(null);
  const riskRef = useRef<HTMLCanvasElement>(null);
  const pcaRef = useRef<HTMLCanvasElement>(null);
  const pd1Ref = useRef<HTMLCanvasElement>(null);
  const pdl1Ref = useRef<HTMLCanvasElement>(null);

  useEffect(() => {
    const charts: Chart[] = [];
    charts.push(new Chart(kmRef.current as any, kmConfig() as any));
    charts.push(new Chart(riskRef.current as any, riskConfig() as any));
    charts.push(new Chart(pcaRef.current as any, pcaConfig() as any));
    charts.push(new Chart(pd1Ref.current as any, violinConfig({
      points: [pd1PtsA, pd1PtsB, pd1PtsC],
      vioY: [pd1VioAy, pd1VioBy, pd1VioCy], vioW: [pd1VioAw, pd1VioBw, pd1VioCw],
      q1: pd1Q1, q3: pd1Q3, med: pd1Med, nLo: pd1NotchLo, nHi: pd1NotchHi, wLo: pd1WhiskLo, wHi: pd1WhiskHi,
      brkFrom: pd1BrkFrom, brkTo: pd1BrkTo, brkY: pd1BrkY, brkLabel: pd1BrkLabel, drop: 0.11,
      kw: pd1Kruskal, kwPos: pd1KruskalPos,
      pad: { left: 0, top: 6, right: 6, bottom: 0 }, xMax: 3.6,
      yMin: 0.855, yMax: 7.35, yTicks: pd1TicksY, yW: 30, yFont: 9, yPad: 4,
      yFmt: (v: number) => String(v), yTitle: "PD1 expression", yTitlePad: 0.5,
    }) as any));
    charts.push(new Chart(pdl1Ref.current as any, violinConfig({
      points: [pdl1PtsA, pdl1PtsB, pdl1PtsC],
      vioY: [pdl1VioAy, pdl1VioBy, pdl1VioCy], vioW: [pdl1VioAw, pdl1VioBw, pdl1VioCw],
      q1: pdl1Q1, q3: pdl1Q3, med: pdl1Med, nLo: pdl1NotchLo, nHi: pdl1NotchHi, wLo: pdl1WhiskLo, wHi: pdl1WhiskHi,
      brkFrom: pdl1BrkFrom, brkTo: pdl1BrkTo, brkY: pdl1BrkY, brkLabel: pdl1BrkLabel, drop: 0.22,
      kw: pdl1Kruskal, kwPos: pdl1KruskalPos,
      pad: { left: 0, top: 1.4, right: 0, bottom: 0 }, xMax: 3.555,
      yMin: -0.34, yMax: 12.8, yTicks: pdl1TicksY, yW: 46, yFont: 8.5, yPad: 2,
      yFmt: (v: number) => v.toFixed(1), yTitle: "PD-L1 expression", yTitlePad: 6,
    }) as any));
    return () => { charts.forEach((c) => c.destroy()); };
  }, []);

  const cv = (ref: any, left: number, top: number, w: number, h: number) => (
    <canvas ref={ref} width={w} height={h} style={{ position: "absolute", left, top, width: w, height: h }} />
  );

  return (
    <div style={{ position: "absolute", left: 0, top: 0, width: 709, height: 708, overflow: "hidden", background: "#fff", fontFamily: FONT }}>
      {cv(kmRef, 0, 0, 355, 262)}
      {cv(riskRef, 0, 256, 355, 100)}
      {cv(pcaRef, 355, 0, 354, 360)}
      {cv(pd1Ref, 0, 376, 355, 336)}
      {cv(pdl1Ref, 355, 376, 354, 336)}
      {panelLabel("(A)", 1, 2)}
      {panelLabel("(B)", 360, 0)}
      {panelLabel("(C)", 2, 367)}
      {panelLabel("(D)", 360, 367)}
    </div>
  );
}
